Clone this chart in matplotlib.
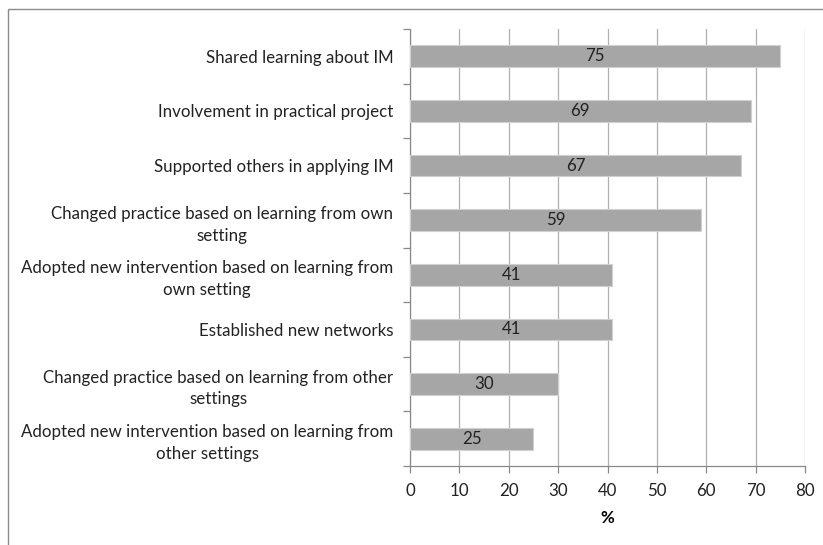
import matplotlib
matplotlib.use("Agg")
import matplotlib.pyplot as plt
from matplotlib.patches import Rectangle

categories = [
    "Shared learning about IM",
    "Involvement in practical project",
    "Supported others in applying IM",
    "Changed practice based on learning from own\nsetting",
    "Adopted new intervention based on learning from\nown setting",
    "Established new networks",
    "Changed practice based on learning from other\nsettings",
    "Adopted new intervention based on learning from\nother settings",
]
values = [75, 69, 67, 59, 41, 41, 30, 25]
xticks = [0, 10, 20, 30, 40, 50, 60, 70, 80]

plt.rcParams["font.family"] = ["Lato", "DejaVu Sans"]
W, H = 823, 545
fs = 12.2
fig = plt.figure(figsize=(W / 100, H / 100), dpi=100)

# outer chart frame (runs off the right and bottom edges)
fig.patches.append(Rectangle((8 / W, -0.1), 1.2, (H - 9) / H + 0.1,
                             transform=fig.transFigure, fill=False,
                             edgecolor="#8c8c8c", linewidth=1.0))

left, right, top, bottom = 410, 805, 29, 466
ax = fig.add_axes([left / W, 1 - bottom / H, (right - left) / W, (bottom - top) / H])

n = len(categories)
pos = list(range(n))
ax.barh(pos, values, height=0.4, color="#a6a6a6", edgecolor="#d0d0d0",
        linewidth=0.8, zorder=3)
for p, v in zip(pos, values):
    ax.text(v / 2, p, str(v), ha="center", va="center", fontsize=fs,
            color="#222222", zorder=4)

ax.set_xlim(0, 80)
ax.set_ylim(n - 0.5, -0.5)
ax.set_xticks(xticks)
ax.set_xticklabels([str(t) for t in xticks], fontsize=fs, color="#222222")
ax.xaxis.grid(True, color="#b0b0b0", linewidth=0.9, zorder=0)
ax.set_axisbelow(True)

ax.set_yticks(pos)
ax.set_yticklabels(categories, fontsize=fs, color="#222222",
                   multialignment="center", linespacing=1.45)
ax.tick_params(axis="y", length=0, pad=12)
ax.set_yticks([i - 0.5 for i in range(n + 1)], minor=True)
ax.tick_params(axis="y", which="minor", length=5, color="#888888", width=0.9)
ax.tick_params(axis="x", length=5, color="#888888", width=0.9, pad=7)

for s in ["top", "right"]:
    ax.spines[s].set_visible(False)
for s in ["left", "bottom"]:
    ax.spines[s].set_color("#888888")
    ax.spines[s].set_linewidth(0.9)

ax.set_xlabel("%", fontsize=fs, fontweight="bold", labelpad=8)

fig.savefig("out.png", dpi=100)
